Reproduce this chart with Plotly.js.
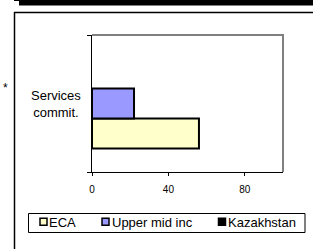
<!DOCTYPE html>
<html>
<head>
<meta charset="utf-8">
<script src="https://cdn.plot.ly/plotly-3.0.1.min.js"></script>
<style>html,body{margin:0;padding:0;background:#fff;}#chart{width:313px;height:249px;}</style>
</head>
<body>
<div id="chart"></div>
<script>
// ---- data ----
const categories = ["Services commit."];
const categoryLabels = ["Services<br>commit."];
const seriesNames = ["ECA", "Upper mid inc", "Kazakhstan"];
const ecaValues = [56];
const upperMidValues = [22];
const kazakhstanValues = [null];
const xTickValues = [0, 40, 80];
const xTickLabels = ["0", "40", "80"];
const seriesColors = ["#FFFFCC", "#9999FF", "#000000"];

// ---- layout helpers (pixel -> paper) ----
const W = 313, H = 249;
const L = 92, R = 283, T = 35, B = 172;
const px2x = x => (x - L) / (R - L);
const px2y = y => (B - y) / (B - T);
const FONT = "Liberation Sans, Arial, sans-serif";

const allValues = [ecaValues, upperMidValues, kazakhstanValues];
const traces = seriesNames.map((name, i) => ({
  type: "bar",
  orientation: "h",
  name: name,
  y: categories,
  x: allValues[i],
  marker: {color: seriesColors[i], line: {color: "#000", width: 2}},
  hoverinfo: "skip"
}));

const shapes = [
  // top black band
  {type: "rect", xref: "paper", yref: "paper", x0: px2x(19), x1: px2x(320), y0: px2y(0), y1: px2y(5.5), fillcolor: "#000", line: {width: 0}, layer: "above"},
  {type: "line", xref: "paper", yref: "paper", x0: px2x(14), x1: px2x(19), y0: px2y(0.5), y1: px2y(0.5), line: {color: "#000", width: 1}},
  // outer frame
  {type: "line", xref: "paper", yref: "paper", x0: px2x(14.5), x1: px2x(14.5), y0: px2y(12), y1: px2y(260), line: {color: "#000", width: 1.5}},
  {type: "line", xref: "paper", yref: "paper", x0: px2x(14), x1: px2x(320), y0: px2y(12.5), y1: px2y(12.5), line: {color: "#000", width: 1.5}},
  // plot area grey border (top, right)
  {type: "line", xref: "paper", yref: "paper", x0: 0, x1: px2x(R + 1), y0: 1, y1: 1, line: {color: "#808080", width: 2}},
  {type: "line", xref: "paper", yref: "paper", x0: px2x(R), x1: px2x(R), y0: 0, y1: px2y(T - 1), line: {color: "#808080", width: 2}},
  // legend box
  {type: "rect", xref: "paper", yref: "paper", x0: px2x(28.5), x1: px2x(305), y0: px2y(213.5), y1: px2y(232.5), fillcolor: "rgba(0,0,0,0)", line: {color: "#000", width: 1}}
];

const legendSquareX = [40, 102, 218.5];
const legendTextX = [47, 110, 226];
const legendY = 221.8;
seriesNames.forEach((n, i) => {
  shapes.push({type: "rect", xref: "paper", yref: "paper",
    x0: px2x(legendSquareX[i]), x1: px2x(legendSquareX[i] + 7),
    y0: px2y(legendY - 3.5), y1: px2y(legendY + 3.5),
    fillcolor: seriesColors[i], line: {color: "#000", width: 1.5}});
});

const annotations = [
  {xref: "paper", yref: "paper", x: px2x(5.5), y: px2y(88), xanchor: "center", yanchor: "middle", text: "*", showarrow: false, font: {family: FONT, size: 12, color: "#000"}},
  {xref: "paper", yref: "y", x: px2x(56), y: categories[0], xanchor: "center", yanchor: "middle", text: categoryLabels[0], showarrow: false, align: "center", font: {family: FONT, size: 13, color: "#000"}}
];
seriesNames.forEach((n, i) => {
  annotations.push({xref: "paper", yref: "paper", x: px2x(legendTextX[i]), y: px2y(legendY + 0.5), xanchor: "left", yanchor: "middle", text: n, showarrow: false, font: {family: FONT, size: 13, color: "#000"}});
});

const layout = {
  width: W, height: H,
  margin: {l: L, r: W - R, t: T, b: H - B, pad: 0},
  paper_bgcolor: "#fff", plot_bgcolor: "#fff",
  showlegend: false,
  barmode: "group",
  bargap: 0.343,
  bargroupgap: 0,
  font: {family: FONT, size: 10, color: "#000"},
  xaxis: {
    range: [0, 100], tickvals: xTickValues, ticktext: xTickLabels,
    ticks: "outside", ticklen: 3, tickcolor: "#000", tickwidth: 1,
    ticklabelstandoff: 5,
    showline: true, linecolor: "#000", linewidth: 1,
    showgrid: false, zeroline: false, fixedrange: true,
    tickfont: {family: FONT, size: 10, color: "#000"}
  },
  yaxis: {
    type: "category", categoryarray: categories,
    ticks: "outside", tickson: "boundaries", ticklen: 4, tickcolor: "#000", tickwidth: 1,
    showline: true, linecolor: "#000", linewidth: 1.5,
    showgrid: false, zeroline: false, showticklabels: false, fixedrange: true
  },
  shapes: shapes,
  annotations: annotations
};

Plotly.newPlot("chart", traces, layout, {staticPlot: true, displayModeBar: false});
</script>
</body>
</html>
